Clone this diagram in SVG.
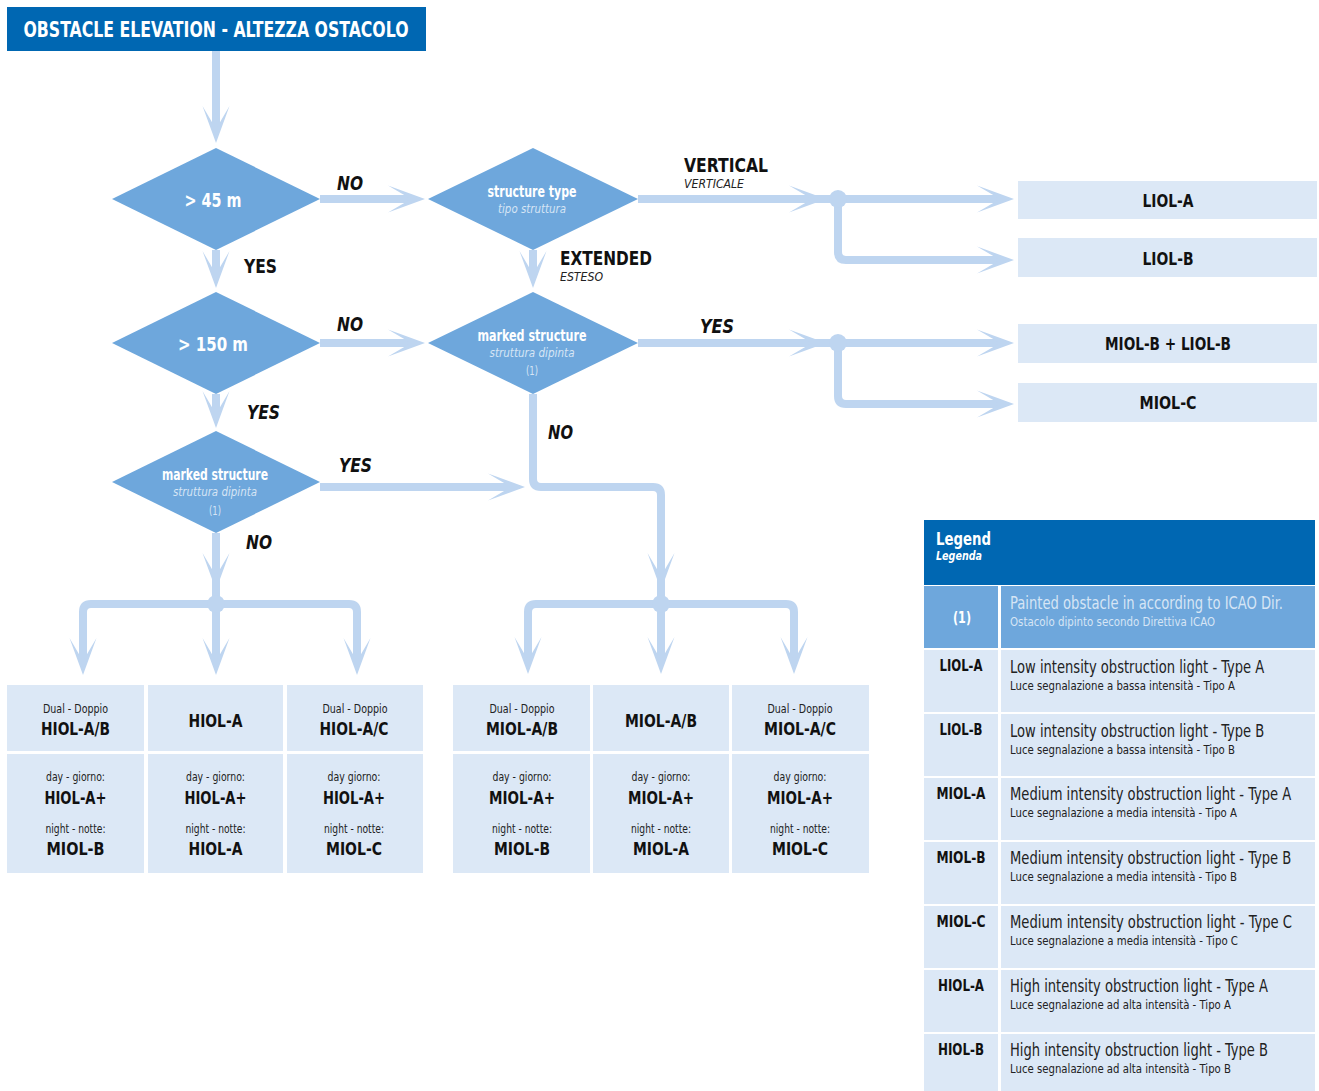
<svg xmlns="http://www.w3.org/2000/svg" width="1319" height="1091" viewBox="0 0 1319 1091">
<style>
text{font-family:"Liberation Sans Narrow","DejaVu Sans Condensed","Liberation Sans",sans-serif}
.b{font-weight:bold}
.i{font-style:italic}
.c{text-anchor:middle}
.w{fill:#ffffff}
.lt{fill:#d6e5f5}
.dia{fill:#6ea7dc}
.box{fill:#dce8f6}
.con{fill:none;stroke:#bed5f0;stroke-width:8;stroke-linejoin:round}
.arr{marker-end:url(#ah)}
.dot{fill:#bed5f0}
.lbl{font-size:20px;font-weight:bold;fill:#111111}
.sm{font-size:13px;fill:#222222}
.big{font-size:18px;font-weight:bold;fill:#111111}
.lg1{font-size:17px;fill:#222222}
.lg2{font-size:13px;fill:#222222}
.lgk{font-size:16px;font-weight:bold;fill:#111111;text-anchor:middle}
</style>
<defs>
<marker id="ah" markerUnits="userSpaceOnUse" viewBox="-40 -16 44 32" markerWidth="44" markerHeight="32" refX="-12" refY="0" orient="auto" overflow="visible">
<path d="M0,0 L-37,-13.5 L-14,0 L-37,13.5 Z" fill="#bed5f0"/>
</marker>
</defs>

<g id="connectors">
<path class="con arr" d="M216,51 V131"/>
<path class="con arr" d="M320,199 H413"/>
<path class="con arr" d="M216,250 V276"/>
<path class="con arr" d="M533,250 V276"/>
<path class="con arr" d="M638,199 H814"/>
<path class="con arr" d="M814,199 H1002"/>
<path class="con arr" d="M838,199 V252 Q838,260 846,260 H1002"/>
<path class="con arr" d="M320,343 H413"/>
<path class="con arr" d="M216,394 V416"/>
<path class="con arr" d="M638,343 H814"/>
<path class="con arr" d="M814,343 H1002"/>
<path class="con arr" d="M838,343 V396 Q838,404 846,404 H1002"/>
<path class="con arr" d="M533,394 V479 Q533,487 541,487 H653 Q661,487 661,495 V578"/>
<path class="con" d="M661,578 V604"/>
<path class="con arr" d="M320,487 H513"/>
<path class="con arr" d="M216,533 V578"/>
<path class="con" d="M216,578 V604"/>
<path class="con arr" d="M216,604 H91 Q83,604 83,612 V663"/>
<path class="con arr" d="M216,604 V663"/>
<path class="con arr" d="M216,604 H349 Q357,604 357,612 V663"/>
<path class="con arr" d="M661,604 H536 Q528,604 528,612 V662"/>
<path class="con arr" d="M661,604 V662"/>
<path class="con arr" d="M661,604 H786 Q794,604 794,612 V662"/>
<circle class="dot" cx="838" cy="199" r="9"/>
<circle class="dot" cx="838" cy="343" r="9"/>
<circle class="dot" cx="216" cy="604" r="9"/>
<circle class="dot" cx="661" cy="604" r="9"/>
<text class="lbl i" x="337" y="190" textLength="26" lengthAdjust="spacingAndGlyphs">NO</text>
<text class="lbl" x="244" y="273" textLength="33" lengthAdjust="spacingAndGlyphs">YES</text>
<text class="lbl" x="684" y="172" textLength="84" lengthAdjust="spacingAndGlyphs">VERTICAL</text>
<text class="sm i" x="684" y="188" textLength="60" lengthAdjust="spacingAndGlyphs">VERTICALE</text>
<text class="lbl" x="560" y="265" textLength="92" lengthAdjust="spacingAndGlyphs">EXTENDED</text>
<text class="sm i" x="560" y="281" textLength="43" lengthAdjust="spacingAndGlyphs">ESTESO</text>
<text class="lbl i" x="337" y="331" textLength="26" lengthAdjust="spacingAndGlyphs">NO</text>
<text class="lbl i" x="247" y="419" textLength="33" lengthAdjust="spacingAndGlyphs">YES</text>
<text class="lbl i" x="700" y="333" textLength="34" lengthAdjust="spacingAndGlyphs">YES</text>
<text class="lbl i" x="339" y="472" textLength="33" lengthAdjust="spacingAndGlyphs">YES</text>
<text class="lbl i" x="548" y="439" textLength="25" lengthAdjust="spacingAndGlyphs">NO</text>
<text class="lbl i" x="246" y="549" textLength="26" lengthAdjust="spacingAndGlyphs">NO</text>
</g>

<g id="title">
<rect x="7" y="7" width="419" height="44" fill="#0067b2"/>
<text class="b c w" x="216" y="37" font-size="22" textLength="385" lengthAdjust="spacingAndGlyphs">OBSTACLE ELEVATION - ALTEZZA OSTACOLO</text>
</g>

<g id="d-45">
<polygon class="dia" points="112,199 216,148 320,199 216,250"/>
<text class="b c w" x="213" y="207" font-size="20" textLength="57" lengthAdjust="spacingAndGlyphs">&gt; 45 m</text>
</g>
<g id="d-structure-type">
<polygon class="dia" points="428,199 533,148 638,199 533,250"/>
<text class="b c w" x="532" y="197" font-size="16" textLength="89" lengthAdjust="spacingAndGlyphs">structure type</text>
<text class="i c lt" x="532" y="213" font-size="13" textLength="68" lengthAdjust="spacingAndGlyphs">tipo struttura</text>
</g>
<g id="d-150">
<polygon class="dia" points="112,343 216,292 320,343 216,394"/>
<text class="b c w" x="213" y="351" font-size="20" textLength="70" lengthAdjust="spacingAndGlyphs">&gt; 150 m</text>
</g>
<g id="d-marked-1">
<polygon class="dia" points="428,343 533,292 638,343 533,394"/>
<text class="b c w" x="532" y="341" font-size="16" textLength="109" lengthAdjust="spacingAndGlyphs">marked structure</text>
<text class="i c lt" x="532" y="357" font-size="13" textLength="85" lengthAdjust="spacingAndGlyphs">struttura dipinta</text>
<text class="c lt" x="532" y="375" font-size="13" textLength="12" lengthAdjust="spacingAndGlyphs">(1)</text>
</g>
<g id="d-marked-2">
<polygon class="dia" points="112,482 216,431 320,482 216,533"/>
<text class="b c w" x="215" y="480" font-size="16" textLength="106" lengthAdjust="spacingAndGlyphs">marked structure</text>
<text class="i c lt" x="215" y="496" font-size="13" textLength="84" lengthAdjust="spacingAndGlyphs">struttura dipinta</text>
<text class="c lt" x="215" y="515" font-size="13" textLength="12" lengthAdjust="spacingAndGlyphs">(1)</text>
</g>

<g id="liol-a"><rect class="box" x="1018" y="181" width="299" height="38"/><text class="big c" x="1168" y="207" font-size="19" textLength="51" lengthAdjust="spacingAndGlyphs">LIOL-A</text></g>
<g id="liol-b"><rect class="box" x="1018" y="238" width="299" height="39"/><text class="big c" x="1168" y="265" font-size="19" textLength="51" lengthAdjust="spacingAndGlyphs">LIOL-B</text></g>
<g id="miol-b-liol-b"><rect class="box" x="1018" y="324" width="299" height="39"/><text class="big c" x="1168" y="350" font-size="19" textLength="126" lengthAdjust="spacingAndGlyphs">MIOL-B + LIOL-B</text></g>
<g id="miol-c"><rect class="box" x="1018" y="383" width="299" height="39"/><text class="big c" x="1168" y="409" font-size="19" textLength="57" lengthAdjust="spacingAndGlyphs">MIOL-C</text></g>

<g id="hiol-ab">
<rect class="box" x="7" y="685" width="137" height="66"/>
<text class="sm c" x="75.5" y="713" textLength="65" lengthAdjust="spacingAndGlyphs">Dual - Doppio</text>
<text class="big c" x="75.5" y="735" textLength="69" lengthAdjust="spacingAndGlyphs">HIOL-A/B</text>
<rect class="box" x="7" y="754" width="137" height="119"/>
<text class="sm c" x="75.5" y="781" textLength="59" lengthAdjust="spacingAndGlyphs">day - giorno:</text>
<text class="big c" x="75.5" y="804" textLength="62" lengthAdjust="spacingAndGlyphs">HIOL-A+</text>
<text class="sm c" x="75.5" y="833" textLength="60" lengthAdjust="spacingAndGlyphs">night - notte:</text>
<text class="big c" x="75.5" y="855" textLength="58" lengthAdjust="spacingAndGlyphs">MIOL-B</text>
</g>
<g id="hiol-a">
<rect class="box" x="148" y="685" width="135" height="66"/>
<text class="big c" x="215.5" y="727" textLength="54" lengthAdjust="spacingAndGlyphs">HIOL-A</text>
<rect class="box" x="148" y="754" width="135" height="119"/>
<text class="sm c" x="215.5" y="781" textLength="59" lengthAdjust="spacingAndGlyphs">day - giorno:</text>
<text class="big c" x="215.5" y="804" textLength="62" lengthAdjust="spacingAndGlyphs">HIOL-A+</text>
<text class="sm c" x="215.5" y="833" textLength="60" lengthAdjust="spacingAndGlyphs">night - notte:</text>
<text class="big c" x="215.5" y="855" textLength="54" lengthAdjust="spacingAndGlyphs">HIOL-A</text>
</g>
<g id="hiol-ac">
<rect class="box" x="287" y="685" width="136" height="66"/>
<text class="sm c" x="355" y="713" textLength="65" lengthAdjust="spacingAndGlyphs">Dual - Doppio</text>
<text class="big c" x="354" y="735" textLength="69" lengthAdjust="spacingAndGlyphs">HIOL-A/C</text>
<rect class="box" x="287" y="754" width="136" height="119"/>
<text class="sm c" x="354" y="781" textLength="53" lengthAdjust="spacingAndGlyphs">day giorno:</text>
<text class="big c" x="354" y="804" textLength="62" lengthAdjust="spacingAndGlyphs">HIOL-A+</text>
<text class="sm c" x="354" y="833" textLength="60" lengthAdjust="spacingAndGlyphs">night - notte:</text>
<text class="big c" x="354" y="855" textLength="56" lengthAdjust="spacingAndGlyphs">MIOL-C</text>
</g>
<g id="miol-ab-dual">
<rect class="box" x="453" y="685" width="137" height="66"/>
<text class="sm c" x="522" y="713" textLength="65" lengthAdjust="spacingAndGlyphs">Dual - Doppio</text>
<text class="big c" x="522" y="735" textLength="72" lengthAdjust="spacingAndGlyphs">MIOL-A/B</text>
<rect class="box" x="453" y="754" width="137" height="119"/>
<text class="sm c" x="522" y="781" textLength="59" lengthAdjust="spacingAndGlyphs">day - giorno:</text>
<text class="big c" x="522" y="804" textLength="66" lengthAdjust="spacingAndGlyphs">MIOL-A+</text>
<text class="sm c" x="522" y="833" textLength="60" lengthAdjust="spacingAndGlyphs">night - notte:</text>
<text class="big c" x="522" y="855" textLength="56" lengthAdjust="spacingAndGlyphs">MIOL-B</text>
</g>
<g id="miol-ab">
<rect class="box" x="593" y="685" width="136" height="66"/>
<text class="big c" x="661" y="727" textLength="72" lengthAdjust="spacingAndGlyphs">MIOL-A/B</text>
<rect class="box" x="593" y="754" width="136" height="119"/>
<text class="sm c" x="661" y="781" textLength="59" lengthAdjust="spacingAndGlyphs">day - giorno:</text>
<text class="big c" x="661" y="804" textLength="66" lengthAdjust="spacingAndGlyphs">MIOL-A+</text>
<text class="sm c" x="661" y="833" textLength="60" lengthAdjust="spacingAndGlyphs">night - notte:</text>
<text class="big c" x="661" y="855" textLength="56" lengthAdjust="spacingAndGlyphs">MIOL-A</text>
</g>
<g id="miol-ac">
<rect class="box" x="732" y="685" width="137" height="66"/>
<text class="sm c" x="800" y="713" textLength="65" lengthAdjust="spacingAndGlyphs">Dual - Doppio</text>
<text class="big c" x="800" y="735" textLength="72" lengthAdjust="spacingAndGlyphs">MIOL-A/C</text>
<rect class="box" x="732" y="754" width="137" height="119"/>
<text class="sm c" x="800" y="781" textLength="53" lengthAdjust="spacingAndGlyphs">day giorno:</text>
<text class="big c" x="800" y="804" textLength="66" lengthAdjust="spacingAndGlyphs">MIOL-A+</text>
<text class="sm c" x="800" y="833" textLength="60" lengthAdjust="spacingAndGlyphs">night - notte:</text>
<text class="big c" x="800" y="855" textLength="56" lengthAdjust="spacingAndGlyphs">MIOL-C</text>
</g>

<g id="legend">
<rect x="924" y="520" width="391" height="65" fill="#0067b2"/>
<text class="b w" x="936" y="545" font-size="18" textLength="55" lengthAdjust="spacingAndGlyphs">Legend</text>
<text class="b i w" x="936" y="560" font-size="13" textLength="46" lengthAdjust="spacingAndGlyphs">Legenda</text>
<rect x="924" y="586" width="391" height="62" fill="#6ea7dc"/>
<text class="b c w" x="962" y="623" font-size="16" textLength="18" lengthAdjust="spacingAndGlyphs">(1)</text>
<text class="lt" font-size="17" transform="translate(1010,609) scale(0.75,1)" textLength="364" lengthAdjust="spacingAndGlyphs">Painted obstacle in according to ICAO Dir.</text>
<text class="lt" x="1010" y="626" font-size="13" textLength="205" lengthAdjust="spacingAndGlyphs">Ostacolo dipinto secondo Direttiva ICAO</text>

<rect class="box" x="924" y="650" width="391" height="62"/>
<text class="lgk" x="961" y="671" textLength="43" lengthAdjust="spacingAndGlyphs">LIOL-A</text>
<text class="lg1" transform="translate(1010,673) scale(0.75,1)" textLength="339" lengthAdjust="spacingAndGlyphs">Low intensity obstruction light - Type A</text>
<text class="lg2" x="1010" y="690" textLength="225" lengthAdjust="spacingAndGlyphs">Luce segnalazione a bassa intensità - Tipo A</text>

<rect class="box" x="924" y="714" width="391" height="62"/>
<text class="lgk" x="961" y="735" textLength="43" lengthAdjust="spacingAndGlyphs">LIOL-B</text>
<text class="lg1" transform="translate(1010,737) scale(0.75,1)" textLength="339" lengthAdjust="spacingAndGlyphs">Low intensity obstruction light - Type B</text>
<text class="lg2" x="1010" y="754" textLength="225" lengthAdjust="spacingAndGlyphs">Luce segnalazione a bassa intensità - Tipo B</text>

<rect class="box" x="924" y="778" width="391" height="62"/>
<text class="lgk" x="961" y="799" textLength="49" lengthAdjust="spacingAndGlyphs">MIOL-A</text>
<text class="lg1" transform="translate(1010,800) scale(0.75,1)" textLength="375" lengthAdjust="spacingAndGlyphs">Medium intensity obstruction light - Type A</text>
<text class="lg2" x="1010" y="817" textLength="227" lengthAdjust="spacingAndGlyphs">Luce segnalazione a media intensità - Tipo A</text>

<rect class="box" x="924" y="842" width="391" height="62"/>
<text class="lgk" x="961" y="863" textLength="49" lengthAdjust="spacingAndGlyphs">MIOL-B</text>
<text class="lg1" transform="translate(1010,864) scale(0.75,1)" textLength="375" lengthAdjust="spacingAndGlyphs">Medium intensity obstruction light - Type B</text>
<text class="lg2" x="1010" y="881" textLength="227" lengthAdjust="spacingAndGlyphs">Luce segnalazione a media intensità - Tipo B</text>

<rect class="box" x="924" y="906" width="391" height="62"/>
<text class="lgk" x="961" y="927" textLength="49" lengthAdjust="spacingAndGlyphs">MIOL-C</text>
<text class="lg1" transform="translate(1010,928) scale(0.75,1)" textLength="376" lengthAdjust="spacingAndGlyphs">Medium intensity obstruction light - Type C</text>
<text class="lg2" x="1010" y="945" textLength="228" lengthAdjust="spacingAndGlyphs">Luce segnalazione a media intensità - Tipo C</text>

<rect class="box" x="924" y="970" width="391" height="62"/>
<text class="lgk" x="961" y="991" textLength="46" lengthAdjust="spacingAndGlyphs">HIOL-A</text>
<text class="lg1" transform="translate(1010,992) scale(0.75,1)" textLength="344" lengthAdjust="spacingAndGlyphs">High intensity obstruction light - Type A</text>
<text class="lg2" x="1010" y="1009" textLength="221" lengthAdjust="spacingAndGlyphs">Luce segnalazione ad alta intensità - Tipo A</text>

<rect class="box" x="924" y="1034" width="391" height="57"/>
<text class="lgk" x="961" y="1055" textLength="46" lengthAdjust="spacingAndGlyphs">HIOL-B</text>
<text class="lg1" transform="translate(1010,1056) scale(0.75,1)" textLength="344" lengthAdjust="spacingAndGlyphs">High intensity obstruction light - Type B</text>
<text class="lg2" x="1010" y="1073" textLength="221" lengthAdjust="spacingAndGlyphs">Luce segnalazione ad alta intensità - Tipo B</text>

<rect x="998" y="586" width="3" height="505" fill="#ffffff"/>
</g>
</svg>
